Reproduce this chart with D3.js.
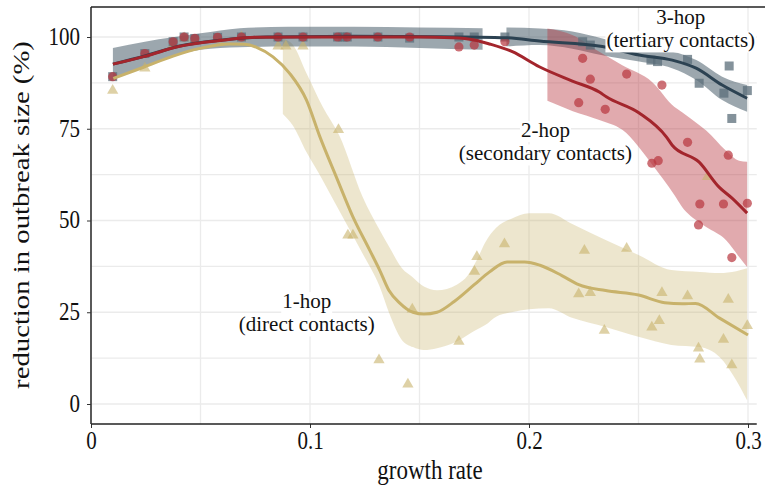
<!DOCTYPE html>
<html lang="en">
<head>
  <meta charset="utf-8">
  <script src="https://d3js.org/d3.v7.min.js"></script>
  <style>
    body { margin: 0; background: #fff; }
    text { font-family: "Liberation Serif", "Times New Roman", serif; fill: #111; }
  </style>
</head>
<body>
<script>
  // tick values and labels
  const xTicks = [0, 0.1, 0.2, 0.3];
  const xTickLabels = ["0", "0.1", "0.2", "0.3"];
  const yTicks = [0, 25, 50, 75, 100];
  const xGrid = [0, 0.05, 0.1, 0.15, 0.2, 0.25, 0.3];
  const yGrid = [0, 12.5, 25, 37.5, 50, 62.5, 75, 87.5, 100];

  // 1-hop (direct contacts): points [growth rate, reduction %]
  const hop1Pts = [
    [0.0099, 85.4], [0.0246, 91.5], [0.0375, 97.8], [0.0425, 99.7], [0.0474, 99], [0.0578, 99.4],
    [0.0687, 100], [0.0854, 97.5], [0.089, 97.5], [0.0968, 97.5], [0.113, 74.7], [0.1173, 46],
    [0.1196, 46], [0.1315, 12], [0.1447, 5.4], [0.1467, 25.8], [0.168, 17], [0.1751, 36.1],
    [0.1762, 40.1], [0.1888, 43.6], [0.2227, 30], [0.2253, 41.8], [0.228, 30.3], [0.2344, 20],
    [0.2446, 42.4], [0.2561, 20.9], [0.2595, 22.7], [0.2607, 30.3], [0.2724, 29.4], [0.2774, 15.2],
    [0.278, 12.2], [0.2815, 61.9], [0.2888, 17.6], [0.291, 28.5], [0.2926, 10.6], [0.2997, 21.3]
  ];
  const hop1Fit = [
    [0.0102, 88.7], [0.0246, 91.9], [0.0375, 94.8], [0.0497, 96.9], [0.0634, 98.1], [0.07, 98],
    [0.0756, 97.2], [0.0831, 94.6], [0.0907, 90.1], [0.0984, 82.8], [0.1044, 73], [0.112, 61.9],
    [0.1196, 51], [0.1272, 42], [0.1318, 36.5], [0.136, 31], [0.141, 27.5], [0.147, 25],
    [0.152, 24.5], [0.158, 25], [0.166, 28], [0.175, 32.5], [0.182, 36], [0.19, 38.7],
    [0.198, 38.7], [0.205, 37.8], [0.215, 35], [0.2227, 32.5], [0.235, 30.9], [0.25, 29.7],
    [0.262, 27.6], [0.27, 27.3], [0.276, 27.4], [0.287, 23.4], [0.3, 18.8]
  ];
  // [growth rate, lower, upper]
  const hop1Band = [
    [0.0876, 79, 99.5], [0.092, 76, 98], [0.0985, 68.5, 90], [0.1058, 61, 81], [0.1135, 52.5, 73],
    [0.124, 41, 56.5], [0.1318, 32, 47.4], [0.136, 25, 43], [0.142, 17.4, 37], [0.147, 15.5, 34.5],
    [0.152, 14.7, 32], [0.158, 15.2, 31], [0.167, 17, 32.5], [0.172, 18.8, 35], [0.176, 20.2, 39],
    [0.18, 21.5, 44], [0.185, 23.8, 48], [0.192, 25, 50.5], [0.2, 25.8, 52], [0.209, 26.1, 52],
    [0.22, 23.4, 49], [0.235, 21, 44.7], [0.25, 18.3, 40.6], [0.265, 16.1, 36.5], [0.278, 15.5, 36],
    [0.287, 12.8, 35.7], [0.2946, 6.5, 36.2], [0.2996, 1, 37]
  ];

  // 2-hop (secondary contacts)
  const hop2Pts = [
    [0.0099, 89.2], [0.0246, 95.5], [0.0375, 98.7], [0.0425, 100], [0.0474, 99.6], [0.0578, 99.9],
    [0.0687, 100], [0.0854, 100], [0.0968, 100], [0.1126, 100], [0.117, 100], [0.131, 100],
    [0.1455, 100], [0.168, 97.3], [0.175, 97.8], [0.189, 98.7], [0.2227, 82.1], [0.2245, 94.2],
    [0.228, 88.5], [0.2348, 80.3], [0.2446, 89.9], [0.2561, 65.6], [0.259, 66.3], [0.2607, 86.9],
    [0.2724, 71.3], [0.2774, 48.8], [0.278, 54.5], [0.2888, 54.5], [0.291, 67.8], [0.2926, 39.9],
    [0.2997, 54.7]
  ];
  const hop2Fit = [
    [0.01, 92.6], [0.025, 94.8], [0.04, 97.4], [0.06, 99.1], [0.075, 99.9], [0.1, 100], [0.15, 100],
    [0.165, 99.8], [0.175, 99.2], [0.182, 98.1], [0.1924, 96], [0.2047, 91.9], [0.2198, 88],
    [0.2321, 85], [0.2353, 83.7], [0.2503, 79.3], [0.2627, 72.8], [0.2654, 70.5], [0.2777, 65.9],
    [0.2868, 59.1], [0.2927, 56.1], [0.2996, 52]
  ];
  const hop2Band = [
    [0.2084, 82.6, 102.3], [0.22, 79.8, 100.5], [0.2321, 77.4, 96], [0.2426, 74.7, 92.3],
    [0.2563, 65.2, 87.7], [0.2663, 57, 81], [0.2699, 53.7, 79.5], [0.2777, 49.5, 76],
    [0.2809, 48.2, 74.5], [0.29, 44.6, 69], [0.2959, 40.1, 66.3], [0.2996, 37.3, 66]
  ];

  // 3-hop (tertiary contacts)
  const hop3Pts = [
    [0.0099, 89.2], [0.0246, 95.5], [0.0375, 98.7], [0.0425, 100], [0.0474, 99.6], [0.0578, 99.9],
    [0.0687, 100], [0.0854, 100], [0.0968, 100], [0.1126, 100], [0.115, 100], [0.117, 100],
    [0.131, 100], [0.1455, 99.7], [0.168, 100], [0.175, 100], [0.189, 100], [0.2245, 98.7],
    [0.228, 97.8], [0.2557, 93.7], [0.2587, 93.3], [0.2724, 93.9], [0.2777, 87.4], [0.289, 84.7],
    [0.2914, 92.1], [0.2926, 77.8], [0.2997, 85.4]
  ];
  const hop3Fit = [
    [0.01, 92.6], [0.025, 94.9], [0.04, 97.5], [0.06, 99.2], [0.08, 100], [0.12, 100.2],
    [0.16, 100.1], [0.19, 99.8], [0.2047, 98.9], [0.2335, 97.4], [0.2503, 95.1], [0.2654, 93.7],
    [0.2763, 91.5], [0.2882, 86.9], [0.2996, 83.3]
  ];
  const hop3BandA = [
    [0.01, 88.3, 97], [0.0246, 91.9, 98.7], [0.05, 96.5, 101], [0.068, 97.2, 102.4],
    [0.09, 97.4, 102.8], [0.12, 97.4, 102.8], [0.15, 97, 102.6], [0.1788, 96.5, 102.4]
  ];
  const hop3BandB = [
    [0.1897, 97.4, 102.6], [0.205, 97.8, 102.3], [0.2198, 96.8, 101.5], [0.2335, 95, 99.6],
    [0.2503, 93.3, 96.8], [0.2653, 91.5, 96], [0.2764, 88.3, 93.7], [0.2882, 82.8, 89.2],
    [0.2996, 79.6, 86.9]
  ];

  // annotations: text lines and anchor (data coords)
  const notes = [
    { lines: ["1-hop", "(direct contacts)"], x: 0.0985, y: 24.5 },
    { lines: ["2-hop", "(secondary contacts)"], x: 0.2075, y: 71.1 },
    { lines: ["3-hop", "(tertiary contacts)"], x: 0.2693, y: 101.9 }
  ];

  const W = 765, H = 488;
  const stretch = 1.15;   // the figure text looks a bit tall
  const fs = 21;
  const lineGap = 23.4;

  const svg = d3.select("body").append("svg").attr("width", W).attr("height", H);

  const x = d3.scaleLinear().domain([0, 0.3]).range([91, 748]);
  const y = d3.scaleLinear().domain([0, 100]).range([404, 37]);
  const pLeft = x(0), pRight = x(0.304), pTop = 7, pBottom = 424;

  svg.append("clipPath").attr("id", "panel")
    .append("rect").attr("x", pLeft).attr("y", pTop).attr("width", pRight - pLeft).attr("height", pBottom - pTop);

  // grid
  const grid = svg.append("g").attr("stroke", "#ebebeb").attr("stroke-width", 1.3);
  grid.selectAll(".gx").data(xGrid).join("line")
    .attr("x1", d => x(d)).attr("x2", d => x(d)).attr("y1", pTop).attr("y2", pBottom);
  grid.selectAll(".gy").data(yGrid).join("line")
    .attr("x1", pLeft).attr("x2", pRight).attr("y1", d => y(d)).attr("y2", d => y(d));

  const plot = svg.append("g").attr("clip-path", "url(#panel)");

  const area = d3.area().x(d => x(d[0])).y0(d => y(d[1])).y1(d => y(d[2])).curve(d3.curveMonotoneX);
  const line = d3.line().x(d => x(d[0])).y(d => y(d[1])).curve(d3.curveMonotoneX);

  const c1 = "#c8b26b", c2 = "#a3252c", c3 = "#2c4252";

  // ribbons
  plot.append("path").datum(hop1Band).attr("d", area).attr("fill", c1).attr("fill-opacity", 0.33);
  plot.append("path").datum(hop3BandA).attr("d", area).attr("fill", "#4a5f6c").attr("fill-opacity", 0.55);
  plot.append("path").datum(hop3BandB).attr("d", area).attr("fill", "#4a5f6c").attr("fill-opacity", 0.55);
  plot.append("path").datum(hop2Band).attr("d", area).attr("fill", "#b8353d").attr("fill-opacity", 0.42);

  // points
  const tri = d3.symbol().type(d3.symbolTriangle).size(55);
  plot.selectAll(".tri").data(hop1Pts).join("path")
    .attr("transform", d => `translate(${x(d[0])},${y(d[1])})`)
    .attr("d", tri).attr("fill", c1).attr("fill-opacity", 0.6);
  plot.selectAll(".sq").data(hop3Pts).join("rect")
    .attr("x", d => x(d[0]) - 4.5).attr("y", d => y(d[1]) - 4.5)
    .attr("width", 9).attr("height", 9)
    .attr("fill", "#5b6d79").attr("fill-opacity", 0.75);
  plot.selectAll(".ci").data(hop2Pts).join("circle")
    .attr("cx", d => x(d[0])).attr("cy", d => y(d[1])).attr("r", 4.6)
    .attr("fill", "#b8353d").attr("fill-opacity", 0.7);

  // fitted lines
  plot.append("path").datum(hop3Fit).attr("d", line).attr("fill", "none").attr("stroke", c3).attr("stroke-width", 3);
  plot.append("path").datum(hop1Fit).attr("d", line).attr("fill", "none").attr("stroke", c1).attr("stroke-width", 3);
  plot.append("path").datum(hop2Fit).attr("d", line).attr("fill", "none").attr("stroke", c2).attr("stroke-width", 3);

  // annotations: white box behind each line
  notes.forEach(n => {
    const g = svg.append("g").attr("transform", `translate(${x(n.x)},${y(n.y) - 6})`);
    n.lines.forEach((t, i) => {
      const txt = g.append("text").attr("text-anchor", "middle").attr("font-size", fs)
        .attr("y", i * lineGap).text(t);
      const w = txt.node().getComputedTextLength();
      g.insert("rect", "text").attr("x", -w / 2 - 1).attr("y", i * lineGap - 16)
        .attr("width", w + 2).attr("height", 21).attr("fill", "#fff");
    });
  });

  // axes
  const xAxis = svg.append("g").attr("transform", `translate(0,${pBottom})`)
    .call(d3.axisBottom(x).tickValues(xTicks).tickFormat((d, i) => xTickLabels[i]).tickSize(4).tickPadding(3).tickSizeOuter(0));
  const yAxis = svg.append("g").attr("transform", `translate(${pLeft},0)`)
    .call(d3.axisLeft(y).tickValues(yTicks).tickSize(4).tickPadding(7).tickSizeOuter(0));
  [xAxis, yAxis].forEach(a => {
    a.select(".domain").remove();
    a.selectAll("line").attr("stroke", "#333");
    a.selectAll("text").attr("font-size", fs).attr("font-family", "Liberation Serif").attr("fill", "#111")
      .attr("transform", `scale(1,${stretch})`);
  });
  yAxis.selectAll("text").attr("dy", "0.3em");

  // frame lines
  svg.append("line").attr("x1", pLeft).attr("x2", pRight).attr("y1", pBottom).attr("y2", pBottom)
    .attr("stroke", "#222").attr("stroke-width", 1.6);
  svg.append("line").attr("x1", pLeft).attr("x2", pLeft).attr("y1", pTop).attr("y2", pBottom)
    .attr("stroke", "#333").attr("stroke-width", 1.6);
  svg.append("line").attr("x1", pLeft).attr("x2", W).attr("y1", pTop).attr("y2", pTop)
    .attr("stroke", "#222").attr("stroke-width", 1.6);

  // axis titles
  svg.append("g").attr("transform", `translate(430,479) scale(1,${stretch})`)
    .append("text").attr("text-anchor", "middle").attr("font-size", 23).text("growth rate");
  svg.append("g").attr("transform", `translate(29,215) scale(1,1.25) rotate(-90)`)
    .append("text").attr("text-anchor", "middle").attr("font-size", 23).text("reduction in outbreak size (%)");
</script>
</body>
</html>
